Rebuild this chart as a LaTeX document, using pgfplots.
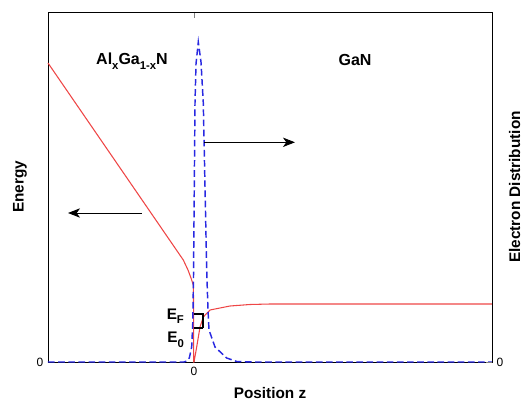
\documentclass[border=0pt]{standalone}
\usepackage{pgfplots}
\pgfplotsset{compat=1.18}
\usepackage{fontspec}
\setmainfont{Liberation Sans}
\usetikzlibrary{arrows.meta}

\definecolor{bandred}{RGB}{238,70,70}
\definecolor{distblue}{RGB}{40,40,225}

\newcommand{\lowsub}[1]{\raisebox{-0.55ex}{\fontsize{8.5}{8.5}\selectfont #1}}

\begin{document}
\begin{tikzpicture}
\pgfplotsset{
  every axis/.append style={
    scale only axis, width=333pt, height=262.5pt,
    xmin=-14.6, xmax=29.8, ymin=0, ymax=35,
    /pgf/number format/assume math mode=true,
    tick label style={font=\fontsize{9}{10}\selectfont},
    label style={font=\fontsize{11.5}{13}\selectfont\bfseries},
    axis line style={line width=0.6pt},
    tick style={line width=0.6pt},
  }
}
\begin{axis}[
  xtick={0}, ytick={0},
  tick align=inside,
  xlabel={Position z},
  ylabel={Energy},
  xlabel style={at={([yshift=-23pt]rel axis cs:0.5,0)}, anchor=center},
  ylabel style={at={([xshift=-21pt]rel axis cs:0,0.5)}, anchor=center},
  clip=false,
]
% conduction band edge
\addplot[bandred, line width=0.8pt] coordinates {
  (-14.6,29.9) (-1.07,10.2) (-0.6,9.2) (-0.3,8.4) (-0.07,7.7)
  (-0.05,6.5) (-0.03,0) (0.0,0) (0.27,1.5) (0.6,3.5) (0.93,4.5)
  (1.6,5.2) (3.6,5.6) (5.6,5.75) (7.6,5.8) (29.8,5.8)
};
% electron distribution
\addplot[distblue, line width=1.1pt, dash pattern=on 5pt off 2.6pt] coordinates {
  (-14.6,0) (-1.0,0) (-0.73,0.1) (-0.47,0.4) (-0.23,1.5) (-0.12,4)
  (-0.05,8.5) (0.03,17.5) (0.1,25.9) (0.2,29.8) (0.43,32.0) (0.7,30.0)
  (0.93,25.9) (1.1,17.5) (1.27,9.2) (1.4,5.2) (1.5,3.2) (2.1,1.5)
  (3.27,0.4) (4.27,0.05) (6,0) (29.8,0)
};
% subband levels
\draw[black, line width=1.3pt] (axis cs:-0.05,4.77) -- (axis cs:1.0,4.77);
\draw[black, line width=1.3pt] (axis cs:-0.05,3.42) -- (axis cs:0.9,3.42);
\draw[black, line width=1.3pt] (axis cs:0.9,3.42) -- (axis cs:0.9,4.77);
% arrows
\draw[-{Stealth[length=9pt,width=7pt,inset=2.5pt]}, line width=0.7pt] (axis cs:-5.23,14.9) -- (axis cs:-12.6,14.9);
\draw[-{Stealth[length=9pt,width=7pt,inset=2.5pt]}, line width=0.7pt] (axis cs:1.0,21.97) -- (axis cs:10.1,21.97);
% annotations
\node[font=\fontsize{12}{14}\selectfont\bfseries] at (axis cs:-6.2,30.1)
  {Al\lowsub{x}Ga\lowsub{1-x}N};
\node[font=\fontsize{12}{14}\selectfont\bfseries] at (axis cs:16.1,30.2) {GaN};
\node[font=\fontsize{11.5}{13}\selectfont\bfseries, anchor=east, inner sep=1pt] at (axis cs:-0.85,4.6)
  {E\lowsub{F}};
\node[font=\fontsize{11.5}{13}\selectfont\bfseries, anchor=east, inner sep=1pt] at (axis cs:-0.85,2.2)
  {E\lowsub{0}};
\coordinate (sw) at (rel axis cs:0,0);
\coordinate (ne) at (rel axis cs:1,1);
\end{axis}
\begin{axis}[
  axis y line*=right, axis x line=none,
  ytick={0},
  ylabel={Electron Distribution},
  ylabel style={at={([xshift=17pt]rel axis cs:1,0.5)}, anchor=center},
]
\end{axis}
\path ([shift={(-36pt,-28.5pt)}]sw) rectangle ([shift={(24.75pt,9pt)}]ne);
\end{tikzpicture}
\end{document}
